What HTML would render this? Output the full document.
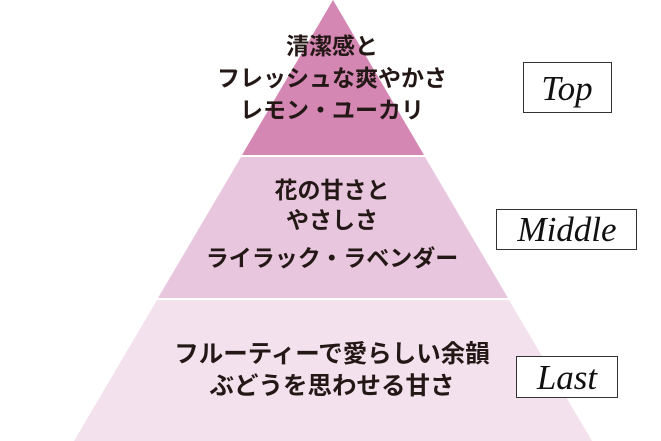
<!DOCTYPE html>
<html><head><meta charset="utf-8"><style>
body{margin:0;width:661px;height:441px;background:#fff;overflow:hidden;position:relative}
svg{position:absolute;left:0;top:0}
.t{font-family:"Liberation Sans","Noto Sans CJK JP",sans-serif;font-weight:bold;font-size:23px;fill:#231815}
.l{font-family:"Liberation Serif",serif;font-style:italic;font-size:35px;fill:#111}
</style></head><body>
<svg width="661" height="441" viewBox="0 0 661 441">
<polygon points="333,0 424,155 242,155" fill="#d587b3"/>
<polygon points="241,157 425,157 508,298 158,298" fill="#e8c6de"/>
<polygon points="157,300 509,300 592,441 74,441" fill="#f3e1ee"/>
<g class="t" text-anchor="middle">
<text x="332" y="54">清潔感と</text>
<text x="332" y="86">フレッシュな爽やかさ</text>
<text x="332" y="118">レモン・ユーカリ</text>
<text x="332" y="198">花の甘さと</text>
<text x="332" y="228">やさしさ</text>
<text x="332" y="266">ライラック・ラベンダー</text>
<text x="332" y="362" style="font-size:24.5px">フルーティーで愛らしい余韻</text>
<text x="332" y="394" style="font-size:24.5px">ぶどうを思わせる甘さ</text>
</g>
<rect x="523.5" y="62.5" width="88" height="50" fill="#fff" stroke="#333" stroke-width="1"/>
<text class="l" x="567" y="100" text-anchor="middle">Top</text>
<rect x="496.5" y="209.5" width="140" height="40" fill="#fff" stroke="#333" stroke-width="1"/>
<text class="l" x="567" y="241" text-anchor="middle">Middle</text>
<rect x="516.5" y="356.5" width="101" height="41" fill="#fff" stroke="#333" stroke-width="1"/>
<text class="l" x="567" y="389" text-anchor="middle">Last</text>
</svg>
</body></html>
